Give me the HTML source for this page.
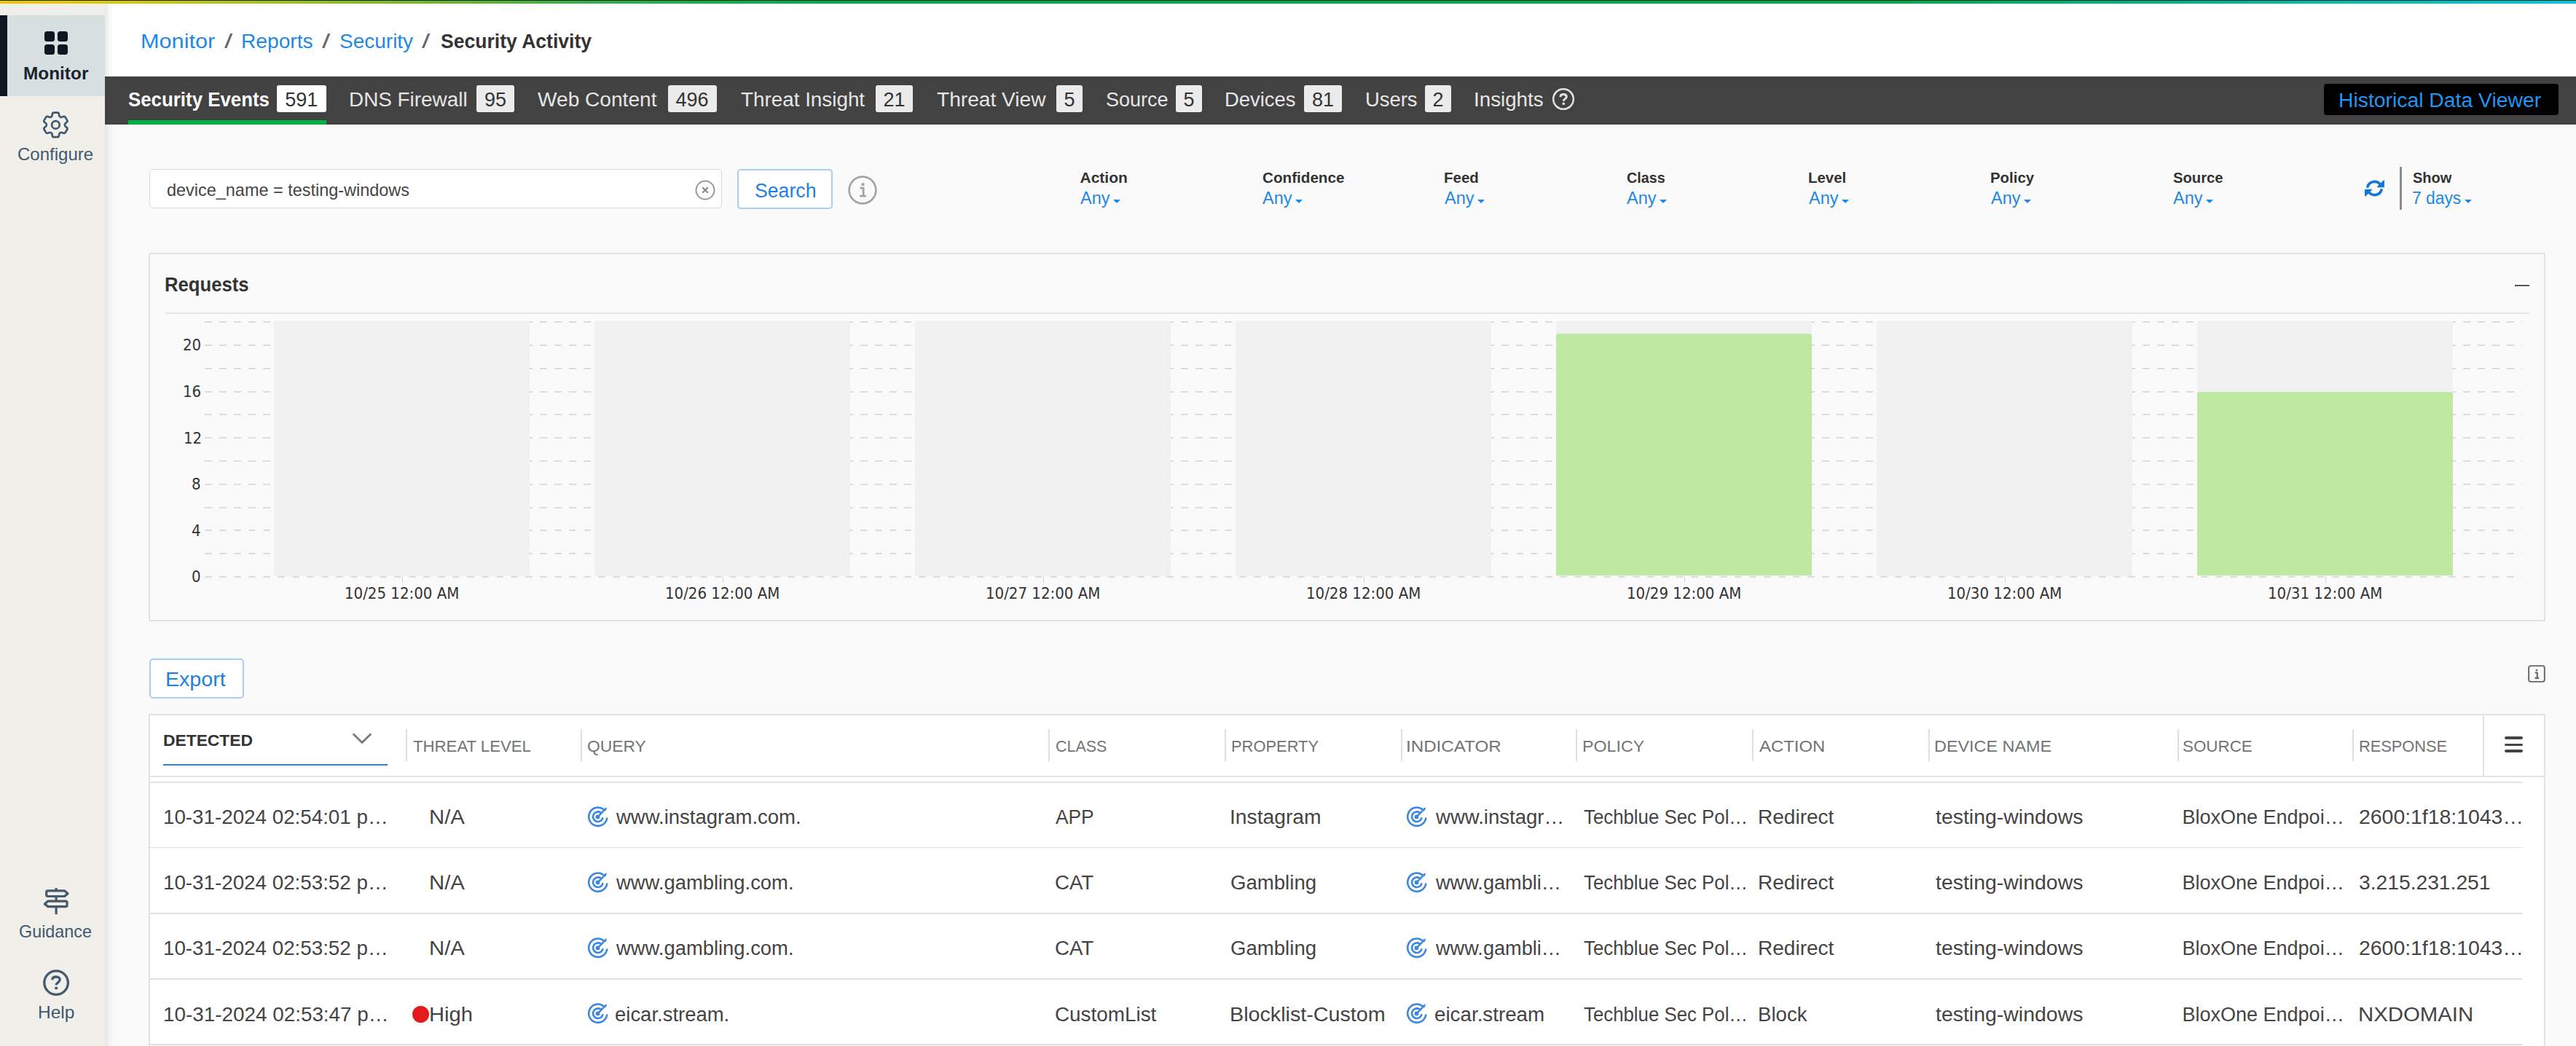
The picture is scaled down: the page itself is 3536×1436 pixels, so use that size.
<!DOCTYPE html>
<html><head><meta charset="utf-8"><title>Security Activity</title>
<style>
*{box-sizing:border-box;margin:0;padding:0}
html,body{width:3536px;height:1436px;overflow:hidden}
body{position:relative;background:#fafafa;font-family:"Liberation Sans",Arial,sans-serif;color:#333}
.a{position:absolute;white-space:nowrap;line-height:1;transform-origin:0 0}
.topbar{left:0;top:0;width:3536px;height:5px;background:linear-gradient(90deg,#f2c800 0%,#e2c800 4%,#a8c418 10%,#3cb040 22%,#00ae4a 32%,#00ae4a 74%,#00b48a 84%,#00c0b8 92%,#00c8dc 100%);border-top:1px solid #1b2b22}
.side{left:0;top:5px;width:144px;height:1431px;background:#f0efea}
.sideshadow{left:144px;top:5px;width:12px;height:1431px;background:linear-gradient(90deg,rgba(0,0,0,0.09),rgba(0,0,0,0.03) 50%,rgba(0,0,0,0))}
.sact{left:0;top:21px;width:144px;height:111px;background:#d8dfe1}
.sbar{left:0;top:21px;width:10px;height:111px;background:#0e1621}
.tabs{left:144px;top:105px;width:3392px;height:66px;background:#424242}
.badge{height:37px;top:117px;background:#ebebeb;color:#333;border-radius:3px;font-size:27px;line-height:41px;text-align:center}
.hdv{left:3190px;top:115px;width:322px;height:43px;background:#000;border-radius:4px}
.panel{left:204px;top:347px;width:3290px;height:506px;background:#fafafa;border:2px solid #e2e2e2}
.gbar{top:441px;width:351px;height:349.5px;background:#f1f1f1}
.grn{width:351px;background:#bfe9a3;border-radius:3px 3px 0 0}
.grid{left:281px;width:3181px;height:2px;background:repeating-linear-gradient(90deg,#dcdcdc 0 10px,transparent 10px 20px)}
.tick{width:1px;height:8px;top:792px;background:#d0d0d0}
.tbl{left:204px;top:980px;width:3289.5px;height:470px;background:#fff;border:2px solid #e2e2e2}
.csep{top:1001px;width:1.6px;height:44px;background:#e0e0e0}
.rline{left:206px;width:3256px;height:1.6px;background:#e0e0e0}
.caret{width:0;height:0;border-left:5.5px solid transparent;border-right:5.5px solid transparent;border-top:5px solid #1e88e5}

</style></head><body>
<div class="a topbar"></div>
<div class="a" style="left:144px;top:5px;width:3392px;height:100px;background:#fff"></div>

<!-- sidebar -->
<div class="a side"></div>
<div class="a sact"></div>
<div class="a sbar"></div>
<svg class="a" style="left:61px;top:43px" width="32" height="32" viewBox="0 0 32 32">
 <rect x="0" y="0" width="14" height="14" rx="3.5" fill="#0e1621"/><rect x="18" y="0" width="14" height="14" rx="3.5" fill="#0e1621"/>
 <rect x="0" y="18" width="14" height="14" rx="3.5" fill="#0e1621"/><rect x="18" y="18" width="14" height="14" rx="3.5" fill="#0e1621"/>
</svg>
<svg class="a" style="left:54.3px;top:148.6px" width="44.8" height="44.8" viewBox="0 0 24 24" fill="none" stroke="#41586d" stroke-width="1.45" stroke-linecap="round" stroke-linejoin="round">
 <path d="M9.594 3.94c.09-.542.56-.94 1.11-.94h2.593c.55 0 1.02.398 1.11.94l.213 1.281c.063.374.313.686.645.87.074.04.147.083.22.127.325.196.72.257 1.075.124l1.217-.456a1.125 1.125 0 0 1 1.37.49l1.296 2.247a1.125 1.125 0 0 1-.26 1.431l-1.003.827c-.293.241-.438.613-.43.992a7.723 7.723 0 0 1 0 .255c-.008.378.137.75.43.991l1.004.827c.424.35.534.955.26 1.43l-1.298 2.247a1.125 1.125 0 0 1-1.369.491l-1.217-.456c-.355-.133-.75-.072-1.076.124a6.47 6.470 0 0 1-.22.128c-.331.183-.581.495-.644.869l-.213 1.281c-.09.543-.56.94-1.11.94h-2.594c-.55 0-1.019-.398-1.110-.94l-.213-1.281c-.062-.374-.312-.686-.644-.87a6.520 6.520 0 0 1-.22-.127c-.325-.196-.72-.257-1.076-.124l-1.217.456a1.125 1.125 0 0 1-1.369-.49l-1.297-2.247a1.125 1.125 0 0 1 .26-1.431l1.004-.827c.292-.24.437-.613.43-.991a6.932 6.932 0 0 1 0-.255c.007-.38-.138-.751-.43-.992l-1.004-.827a1.125 1.125 0 0 1-.26-1.43l1.297-2.247a1.125 1.125 0 0 1 1.370-.491l1.216.456c.356.133.751.072 1.076-.124.072-.044.146-.086.22-.128.332-.183.582-.495.644-.869l.214-1.28Z"/>
 <circle cx="12" cy="12" r="2.85"/>
</svg>
<svg class="a" style="left:50px;top:1210px" width="55" height="55" viewBox="0 0 55 55" fill="none" stroke="#44596b" stroke-width="3.2" stroke-linejoin="round">
 <path d="M27.1 9v3.9M27.1 20.5v6.6M27.1 34.7v10.5"/>
 <path d="M15.7 12.9H38.6L43 16.7L38.6 20.5H15.7Q13.7 20.5 13.7 18.5V14.9Q13.7 12.9 15.7 12.9Z"/>
 <path d="M16 27.1H40Q42 27.1 42 29.1V32.7Q42 34.7 40 34.7H16L11.4 30.9Z"/>
</svg>
<svg class="a" style="left:50px;top:1322px" width="55" height="55" viewBox="0 0 55 55" fill="none" stroke="#44596b" stroke-width="3.3">
 <circle cx="27.1" cy="27.1" r="16.3"/>
 <path d="M21.9 23.2C21.9 20.4 24.1 19 27 19C30.1 19 32.2 20.7 32.2 23.1C32.2 26.4 27.2 26.7 27.2 30.3" stroke-width="3.4"/>
 <circle cx="27.2" cy="34.5" r="2.1" fill="#44596b" stroke="none"/>
</svg>
<div class="a sideshadow"></div>

<!-- tabs -->
<div class="a tabs"></div>
<div class="a" style="left:176px;top:165px;width:271.5px;height:6px;background:#00b341"></div>
<svg class="a" style="left:2130.3px;top:119.7px" width="32" height="32" viewBox="0 0 32 32" fill="none" stroke="#e2e2e2" stroke-width="2.5">
 <circle cx="16" cy="16" r="13.8"/>
 <path d="M11.9 13.2C11.9 10.8 13.7 9.5 16.1 9.5C18.6 9.5 20.3 10.9 20.3 12.9C20.3 15.6 16.3 15.8 16.3 18.8" stroke-width="3"/>
 <circle cx="16.3" cy="22.4" r="1.8" fill="#e2e2e2" stroke="none"/>
</svg>
<div class="a hdv"></div>

<!-- filters -->
<div class="a" style="left:205px;top:232px;width:786px;height:54px;background:#fff;border:1.5px solid #d9d9d9;border-radius:5px"></div>
<svg class="a" style="left:954px;top:246.5px" width="28" height="28" viewBox="0 0 28 28" fill="none" stroke="#9a9a9a" stroke-width="2">
 <circle cx="14" cy="14" r="12.5"/>
 <path d="M10.2 10.2l7.6 7.6M17.8 10.2l-7.6 7.6" stroke="#8a8a8a" stroke-width="2.2"/>
</svg>
<div class="a" style="left:1012px;top:231.5px;width:131px;height:55px;background:#fff;border:2px solid #a9cdf3;border-radius:5px"></div>
<svg class="a" style="left:1164px;top:240.5px" width="40" height="40" viewBox="0 0 40 40" fill="none" stroke="#a3a3a3" stroke-width="2.6">
 <circle cx="20" cy="20" r="18.4"/>
 <circle cx="20.5" cy="12.2" r="2.1" fill="#a3a3a3" stroke="none"/>
 <path d="M16.5 17.2h4.6v10.4M16.2 28.2h8.6" stroke-width="2.8"/>
</svg>
<!-- carets -->
<div class="a caret" style="left:1527.5px;top:273.5px"></div>
<div class="a caret" style="left:1777.5px;top:273.5px"></div>
<div class="a caret" style="left:2027.5px;top:273.5px"></div>
<div class="a caret" style="left:2277.5px;top:273.5px"></div>
<div class="a caret" style="left:2527.5px;top:273.5px"></div>
<div class="a caret" style="left:2777.5px;top:273.5px"></div>
<div class="a caret" style="left:3027.5px;top:273.5px"></div>
<div class="a caret" style="left:3383px;top:273.5px"></div>
<!-- refresh -->
<svg class="a" style="left:3245px;top:246px" width="29" height="25" viewBox="0 0 29 25" fill="none" stroke="#1275dc" stroke-width="3.6" stroke-linecap="round">
 <path d="M5 10.2A10 10 0 0 1 22.5 7.5"/>
 <path d="M24 14.8A10 10 0 0 1 6.5 17.5"/>
 <path d="M27.3 1.8v8.8h-8.8z" fill="#1275dc" stroke="#1275dc" stroke-width="1.2" stroke-linejoin="round"/>
 <path d="M1.7 23.2v-8.8h8.8z" fill="#1275dc" stroke="#1275dc" stroke-width="1.2" stroke-linejoin="round"/>
</svg>
<div class="a" style="left:3294px;top:229px;width:2.6px;height:59px;background:#8a8a8a"></div>

<!-- chart panel -->
<div class="a panel"></div>
<div class="a" style="left:226px;top:429px;width:3246px;height:2px;background:#e6e6e6"></div>
<div class="a" style="left:3452px;top:390.5px;width:20px;height:2.5px;background:#555"></div>

<!-- export -->
<div class="a" style="left:205px;top:903.5px;width:130px;height:55px;background:#fff;border:2px solid #a9cdf3;border-radius:5px"></div>
<svg class="a" style="left:3470px;top:912.5px" width="24" height="24" viewBox="0 0 25 25" fill="none" stroke="#666" stroke-width="2">
 <rect x="1.2" y="1.2" width="22.6" height="22.6" rx="3"/>
 <circle cx="12.5" cy="7.4" r="1.5" fill="#666" stroke="none"/>
 <path d="M10 11h3.3v7.4M9.8 18.6h6" stroke-width="2.2"/>
</svg>

<!-- table -->
<div class="a tbl"></div>
<div class="a" style="left:206px;top:1065px;width:3286px;height:1.5px;background:#e2e2e2"></div>
<div class="a" style="left:206px;top:1066.5px;width:3256px;height:7px;background:#fff"></div>
<div class="a" style="left:206px;top:1073px;width:3256px;height:2px;background:#e2e2e2"></div>
<div class="a" style="left:224px;top:1048.8px;width:308px;height:2.4px;background:#2b86e2"></div>
<svg class="a" style="left:483px;top:1005px" width="28" height="18" viewBox="0 0 28 18" fill="none" stroke="#7a7a7a" stroke-width="2.8" stroke-linecap="round" stroke-linejoin="round">
 <path d="M2.5 3.2l11.5 11.2 11.5-11.2"/>
</svg>
<div class="a csep" style="left:557px"></div>
<div class="a csep" style="left:797px"></div>
<div class="a csep" style="left:1439px"></div>
<div class="a csep" style="left:1681px"></div>
<div class="a csep" style="left:1923px"></div>
<div class="a csep" style="left:2163px"></div>
<div class="a csep" style="left:2405px"></div>
<div class="a csep" style="left:2647px"></div>
<div class="a csep" style="left:2989px"></div>
<div class="a csep" style="left:3229px"></div>
<div class="a" style="left:3408.2px;top:981px;width:2px;height:84px;background:#e2e2e2"></div>
<div class="a" style="left:3438.3px;top:1011.3px;width:24.4px;height:3.6px;background:#434343;border-radius:2px"></div>
<div class="a" style="left:3438.3px;top:1020.7px;width:24.4px;height:3.6px;background:#434343;border-radius:2px"></div>
<div class="a" style="left:3438.3px;top:1029.2px;width:24.4px;height:3.6px;background:#434343;border-radius:2px"></div>

<div class="a grid" style="top:791.0px"></div>
<div class="a grid" style="top:759.2px"></div>
<div class="a grid" style="top:727.4px"></div>
<div class="a grid" style="top:695.6px"></div>
<div class="a grid" style="top:663.8px"></div>
<div class="a grid" style="top:632.0px"></div>
<div class="a grid" style="top:600.2px"></div>
<div class="a grid" style="top:568.4px"></div>
<div class="a grid" style="top:536.6px"></div>
<div class="a grid" style="top:504.8px"></div>
<div class="a grid" style="top:473.0px"></div>
<div class="a grid" style="top:441.2px"></div>
<div class="a gbar" style="left:376px"></div>
<div class="a gbar" style="left:816px"></div>
<div class="a gbar" style="left:1256px"></div>
<div class="a gbar" style="left:1696px"></div>
<div class="a gbar" style="left:2136px"></div>
<div class="a gbar" style="left:2576px"></div>
<div class="a gbar" style="left:3016px"></div>
<div class="a grn" style="left:2136px;top:458.1px;height:332.4px"></div>
<div class="a grn" style="left:3016px;top:537.6px;height:252.9px"></div>
<div class="a tick" style="left:551.5px"></div>
<div class="a tick" style="left:991.5px"></div>
<div class="a tick" style="left:1431.5px"></div>
<div class="a tick" style="left:1871.5px"></div>
<div class="a tick" style="left:2311.5px"></div>
<div class="a tick" style="left:2751.5px"></div>
<div class="a tick" style="left:3191.5px"></div>
<div class="a badge" style="left:380px;width:67.5px;background:#ffffff">591</div>
<div class="a badge" style="left:654px;width:52.0px;background:#ebebeb">95</div>
<div class="a badge" style="left:916.5px;width:67.0px;background:#ebebeb">496</div>
<div class="a badge" style="left:1202px;width:51.0px;background:#ebebeb">21</div>
<div class="a badge" style="left:1450px;width:36.0px;background:#ebebeb">5</div>
<div class="a badge" style="left:1614px;width:36.0px;background:#ebebeb">5</div>
<div class="a badge" style="left:1790px;width:52.0px;background:#ebebeb">81</div>
<div class="a badge" style="left:1956px;width:36.0px;background:#ebebeb">2</div>
<div class="a rline" style="top:1162.8px"></div>
<svg class="a" style="left:805.5px;top:1105.6px" width="30" height="30" viewBox="0 0 30 30" fill="none" stroke="#3b87e0" stroke-linecap="round">
<path d="M27.2 17.5A12.6 12.6 0 1 1 21.6 4.6" stroke-width="2.6"/>
<path d="M21.3 17.3A6.8 6.8 0 1 1 18.4 9.4" stroke-width="2.6"/>
<circle cx="14.5" cy="15.4" r="2.9" fill="#3b87e0" stroke="none"/>
<path d="M14.8 15.2L25.4 4.2" stroke-width="2.4"/>
<path d="M22.2 5.6l4.8-3.4-1.6 5.3z" fill="#3b87e0" stroke="none"/>
</svg>
<svg class="a" style="left:1930px;top:1105.6px" width="30" height="30" viewBox="0 0 30 30" fill="none" stroke="#3b87e0" stroke-linecap="round">
<path d="M27.2 17.5A12.6 12.6 0 1 1 21.6 4.6" stroke-width="2.6"/>
<path d="M21.3 17.3A6.8 6.8 0 1 1 18.4 9.4" stroke-width="2.6"/>
<circle cx="14.5" cy="15.4" r="2.9" fill="#3b87e0" stroke="none"/>
<path d="M14.8 15.2L25.4 4.2" stroke-width="2.4"/>
<path d="M22.2 5.6l4.8-3.4-1.6 5.3z" fill="#3b87e0" stroke="none"/>
</svg>
<div class="a rline" style="top:1253.0px"></div>
<svg class="a" style="left:805.5px;top:1195.8px" width="30" height="30" viewBox="0 0 30 30" fill="none" stroke="#3b87e0" stroke-linecap="round">
<path d="M27.2 17.5A12.6 12.6 0 1 1 21.6 4.6" stroke-width="2.6"/>
<path d="M21.3 17.3A6.8 6.8 0 1 1 18.4 9.4" stroke-width="2.6"/>
<circle cx="14.5" cy="15.4" r="2.9" fill="#3b87e0" stroke="none"/>
<path d="M14.8 15.2L25.4 4.2" stroke-width="2.4"/>
<path d="M22.2 5.6l4.8-3.4-1.6 5.3z" fill="#3b87e0" stroke="none"/>
</svg>
<svg class="a" style="left:1930px;top:1195.8px" width="30" height="30" viewBox="0 0 30 30" fill="none" stroke="#3b87e0" stroke-linecap="round">
<path d="M27.2 17.5A12.6 12.6 0 1 1 21.6 4.6" stroke-width="2.6"/>
<path d="M21.3 17.3A6.8 6.8 0 1 1 18.4 9.4" stroke-width="2.6"/>
<circle cx="14.5" cy="15.4" r="2.9" fill="#3b87e0" stroke="none"/>
<path d="M14.8 15.2L25.4 4.2" stroke-width="2.4"/>
<path d="M22.2 5.6l4.8-3.4-1.6 5.3z" fill="#3b87e0" stroke="none"/>
</svg>
<div class="a rline" style="top:1343.2px"></div>
<svg class="a" style="left:805.5px;top:1286.0px" width="30" height="30" viewBox="0 0 30 30" fill="none" stroke="#3b87e0" stroke-linecap="round">
<path d="M27.2 17.5A12.6 12.6 0 1 1 21.6 4.6" stroke-width="2.6"/>
<path d="M21.3 17.3A6.8 6.8 0 1 1 18.4 9.4" stroke-width="2.6"/>
<circle cx="14.5" cy="15.4" r="2.9" fill="#3b87e0" stroke="none"/>
<path d="M14.8 15.2L25.4 4.2" stroke-width="2.4"/>
<path d="M22.2 5.6l4.8-3.4-1.6 5.3z" fill="#3b87e0" stroke="none"/>
</svg>
<svg class="a" style="left:1930px;top:1286.0px" width="30" height="30" viewBox="0 0 30 30" fill="none" stroke="#3b87e0" stroke-linecap="round">
<path d="M27.2 17.5A12.6 12.6 0 1 1 21.6 4.6" stroke-width="2.6"/>
<path d="M21.3 17.3A6.8 6.8 0 1 1 18.4 9.4" stroke-width="2.6"/>
<circle cx="14.5" cy="15.4" r="2.9" fill="#3b87e0" stroke="none"/>
<path d="M14.8 15.2L25.4 4.2" stroke-width="2.4"/>
<path d="M22.2 5.6l4.8-3.4-1.6 5.3z" fill="#3b87e0" stroke="none"/>
</svg>
<div class="a rline" style="top:1433.4px"></div>
<svg class="a" style="left:805.5px;top:1376.2px" width="30" height="30" viewBox="0 0 30 30" fill="none" stroke="#3b87e0" stroke-linecap="round">
<path d="M27.2 17.5A12.6 12.6 0 1 1 21.6 4.6" stroke-width="2.6"/>
<path d="M21.3 17.3A6.8 6.8 0 1 1 18.4 9.4" stroke-width="2.6"/>
<circle cx="14.5" cy="15.4" r="2.9" fill="#3b87e0" stroke="none"/>
<path d="M14.8 15.2L25.4 4.2" stroke-width="2.4"/>
<path d="M22.2 5.6l4.8-3.4-1.6 5.3z" fill="#3b87e0" stroke="none"/>
</svg>
<svg class="a" style="left:1930px;top:1376.2px" width="30" height="30" viewBox="0 0 30 30" fill="none" stroke="#3b87e0" stroke-linecap="round">
<path d="M27.2 17.5A12.6 12.6 0 1 1 21.6 4.6" stroke-width="2.6"/>
<path d="M21.3 17.3A6.8 6.8 0 1 1 18.4 9.4" stroke-width="2.6"/>
<circle cx="14.5" cy="15.4" r="2.9" fill="#3b87e0" stroke="none"/>
<path d="M14.8 15.2L25.4 4.2" stroke-width="2.4"/>
<path d="M22.2 5.6l4.8-3.4-1.6 5.3z" fill="#3b87e0" stroke="none"/>
</svg>
<div class="a" style="left:566px;top:1380.5px;width:23px;height:23px;border-radius:50%;background:#e31b1b"></div>
<div class="a" style="left:31.98px;top:88.68px;font-size:24px;font-weight:700;color:#1a2330;font-family:'Liberation Sans', Arial, sans-serif;transform:scaleX(1.0158);">Monitor</div>
<div class="a" style="left:24.00px;top:199.68px;font-size:24px;font-weight:400;color:#40596f;font-family:'Liberation Sans', Arial, sans-serif;">Configure</div>
<div class="a" style="left:26.43px;top:1266.68px;font-size:24px;font-weight:400;color:#40596f;font-family:'Liberation Sans', Arial, sans-serif;transform:scaleX(0.9725);">Guidance</div>
<div class="a" style="left:52.38px;top:1378.28px;font-size:24px;font-weight:400;color:#40596f;font-family:'Liberation Sans', Arial, sans-serif;transform:scaleX(1.0206);">Help</div>
<div class="a" style="left:192.73px;top:43.84px;font-size:27px;font-weight:400;color:#1e88e5;font-family:'Liberation Sans', Arial, sans-serif;transform:scaleX(1.1359);">Monitor</div>
<div class="a" style="left:307.60px;top:43.84px;font-size:27px;font-weight:400;color:#666666;font-family:'Liberation Sans', Arial, sans-serif;transform:scaleX(1.5000);">/</div>
<div class="a" style="left:331.31px;top:43.84px;font-size:27px;font-weight:400;color:#1e88e5;font-family:'Liberation Sans', Arial, sans-serif;transform:scaleX(1.0430);">Reports</div>
<div class="a" style="left:442.00px;top:43.84px;font-size:27px;font-weight:400;color:#666666;font-family:'Liberation Sans', Arial, sans-serif;transform:scaleX(1.5000);">/</div>
<div class="a" style="left:466.36px;top:43.84px;font-size:27px;font-weight:400;color:#1e88e5;font-family:'Liberation Sans', Arial, sans-serif;transform:scaleX(1.0368);">Security</div>
<div class="a" style="left:579.00px;top:43.84px;font-size:27px;font-weight:400;color:#666666;font-family:'Liberation Sans', Arial, sans-serif;transform:scaleX(1.5000);">/</div>
<div class="a" style="left:605.00px;top:43.84px;font-size:27px;font-weight:700;color:#333;font-family:'Liberation Sans', Arial, sans-serif;transform:scaleX(0.9831);">Security Activity</div>
<div class="a" style="left:176.00px;top:124.14px;font-size:27px;font-weight:700;color:#ffffff;font-family:'Liberation Sans', Arial, sans-serif;transform:scaleX(0.9575);">Security Events</div>
<div class="a" style="left:478.94px;top:124.14px;font-size:27px;font-weight:400;color:#e6e6e6;font-family:'Liberation Sans', Arial, sans-serif;transform:scaleX(1.0322);">DNS Firewall</div>
<div class="a" style="left:738.00px;top:124.14px;font-size:27px;font-weight:400;color:#e6e6e6;font-family:'Liberation Sans', Arial, sans-serif;transform:scaleX(1.0406);">Web Content</div>
<div class="a" style="left:1017.00px;top:124.14px;font-size:27px;font-weight:400;color:#e6e6e6;font-family:'Liberation Sans', Arial, sans-serif;transform:scaleX(1.0303);">Threat Insight</div>
<div class="a" style="left:1286.00px;top:124.14px;font-size:27px;font-weight:400;color:#e6e6e6;font-family:'Liberation Sans', Arial, sans-serif;transform:scaleX(1.0412);">Threat View</div>
<div class="a" style="left:1518.00px;top:124.14px;font-size:27px;font-weight:400;color:#e6e6e6;font-family:'Liberation Sans', Arial, sans-serif;">Source</div>
<div class="a" style="left:1680.97px;top:124.14px;font-size:27px;font-weight:400;color:#e6e6e6;font-family:'Liberation Sans', Arial, sans-serif;transform:scaleX(1.0157);">Devices</div>
<div class="a" style="left:1873.97px;top:124.14px;font-size:27px;font-weight:400;color:#e6e6e6;font-family:'Liberation Sans', Arial, sans-serif;transform:scaleX(1.0146);">Users</div>
<div class="a" style="left:2022.95px;top:124.14px;font-size:27px;font-weight:400;color:#e6e6e6;font-family:'Liberation Sans', Arial, sans-serif;transform:scaleX(1.0271);">Insights</div>
<div class="a" style="left:3209.90px;top:125.44px;font-size:27px;font-weight:400;color:#2196f3;font-family:'Liberation Sans', Arial, sans-serif;transform:scaleX(1.0490);">Historical Data Viewer</div>
<div class="a" style="left:229.02px;top:248.68px;font-size:24px;font-weight:400;color:#444;font-family:'Liberation Sans', Arial, sans-serif;transform:scaleX(0.9769);">device_name = testing-windows</div>
<div class="a" style="left:1036.35px;top:247.50px;font-size:28px;font-weight:400;color:#1f80e0;font-family:'Liberation Sans', Arial, sans-serif;transform:scaleX(0.9519);">Search</div>
<div class="a" style="left:1482.50px;top:232.82px;font-size:21px;font-weight:700;color:#333;font-family:'Liberation Sans', Arial, sans-serif;">Action</div>
<div class="a" style="left:1482.50px;top:261.23px;font-size:23px;font-weight:400;color:#1e88e5;font-family:'Liberation Sans', Arial, sans-serif;transform:scaleX(1.0216);">Any</div>
<div class="a" style="left:1732.50px;top:232.82px;font-size:21px;font-weight:700;color:#333;font-family:'Liberation Sans', Arial, sans-serif;transform:scaleX(0.9836);">Confidence</div>
<div class="a" style="left:1732.50px;top:261.23px;font-size:23px;font-weight:400;color:#1e88e5;font-family:'Liberation Sans', Arial, sans-serif;transform:scaleX(1.0216);">Any</div>
<div class="a" style="left:1981.53px;top:232.82px;font-size:21px;font-weight:700;color:#333;font-family:'Liberation Sans', Arial, sans-serif;transform:scaleX(0.9749);">Feed</div>
<div class="a" style="left:1982.50px;top:261.23px;font-size:23px;font-weight:400;color:#1e88e5;font-family:'Liberation Sans', Arial, sans-serif;transform:scaleX(1.0216);">Any</div>
<div class="a" style="left:2232.50px;top:232.82px;font-size:21px;font-weight:700;color:#333;font-family:'Liberation Sans', Arial, sans-serif;transform:scaleX(0.9393);">Class</div>
<div class="a" style="left:2232.50px;top:261.23px;font-size:23px;font-weight:400;color:#1e88e5;font-family:'Liberation Sans', Arial, sans-serif;transform:scaleX(1.0216);">Any</div>
<div class="a" style="left:2481.53px;top:232.82px;font-size:21px;font-weight:700;color:#333;font-family:'Liberation Sans', Arial, sans-serif;transform:scaleX(0.9717);">Level</div>
<div class="a" style="left:2482.50px;top:261.23px;font-size:23px;font-weight:400;color:#1e88e5;font-family:'Liberation Sans', Arial, sans-serif;transform:scaleX(1.0216);">Any</div>
<div class="a" style="left:2731.53px;top:232.82px;font-size:21px;font-weight:700;color:#333;font-family:'Liberation Sans', Arial, sans-serif;transform:scaleX(0.9725);">Policy</div>
<div class="a" style="left:2732.50px;top:261.23px;font-size:23px;font-weight:400;color:#1e88e5;font-family:'Liberation Sans', Arial, sans-serif;transform:scaleX(1.0216);">Any</div>
<div class="a" style="left:2982.50px;top:232.82px;font-size:21px;font-weight:700;color:#333;font-family:'Liberation Sans', Arial, sans-serif;transform:scaleX(0.9629);">Source</div>
<div class="a" style="left:2982.50px;top:261.23px;font-size:23px;font-weight:400;color:#1e88e5;font-family:'Liberation Sans', Arial, sans-serif;transform:scaleX(1.0216);">Any</div>
<div class="a" style="left:3312.00px;top:232.82px;font-size:21px;font-weight:700;color:#333;font-family:'Liberation Sans', Arial, sans-serif;transform:scaleX(0.9530);">Show</div>
<div class="a" style="left:3311.01px;top:261.23px;font-size:23px;font-weight:400;color:#1e88e5;font-family:'Liberation Sans', Arial, sans-serif;transform:scaleX(0.9930);">7 days</div>
<div class="a" style="left:226.05px;top:378.44px;font-size:27px;font-weight:700;color:#333;font-family:'Liberation Sans', Arial, sans-serif;transform:scaleX(0.9513);">Requests</div>
<div class="a" style="left:263.30px;top:781.38px;font-size:22px;font-weight:400;color:#333;font-family:'DejaVu Sans', sans-serif;transform:scaleX(0.9000);">0</div>
<div class="a" style="left:263.30px;top:717.78px;font-size:22px;font-weight:400;color:#333;font-family:'DejaVu Sans', sans-serif;transform:scaleX(0.9000);">4</div>
<div class="a" style="left:263.30px;top:654.18px;font-size:22px;font-weight:400;color:#333;font-family:'DejaVu Sans', sans-serif;transform:scaleX(0.9000);">8</div>
<div class="a" style="left:251.60px;top:590.58px;font-size:22px;font-weight:400;color:#333;font-family:'DejaVu Sans', sans-serif;transform:scaleX(0.9000);">12</div>
<div class="a" style="left:250.70px;top:526.98px;font-size:22px;font-weight:400;color:#333;font-family:'DejaVu Sans', sans-serif;transform:scaleX(0.9000);">16</div>
<div class="a" style="left:250.70px;top:463.38px;font-size:22px;font-weight:400;color:#333;font-family:'DejaVu Sans', sans-serif;transform:scaleX(0.9000);">20</div>
<div class="a" style="left:472.82px;top:804.38px;font-size:22px;font-weight:400;color:#333;font-family:'DejaVu Sans', sans-serif;transform:scaleX(0.9000);">10/25 12:00 AM</div>
<div class="a" style="left:912.82px;top:804.38px;font-size:22px;font-weight:400;color:#333;font-family:'DejaVu Sans', sans-serif;transform:scaleX(0.9000);">10/26 12:00 AM</div>
<div class="a" style="left:1352.82px;top:804.38px;font-size:22px;font-weight:400;color:#333;font-family:'DejaVu Sans', sans-serif;transform:scaleX(0.9000);">10/27 12:00 AM</div>
<div class="a" style="left:1792.82px;top:804.38px;font-size:22px;font-weight:400;color:#333;font-family:'DejaVu Sans', sans-serif;transform:scaleX(0.9000);">10/28 12:00 AM</div>
<div class="a" style="left:2232.82px;top:804.38px;font-size:22px;font-weight:400;color:#333;font-family:'DejaVu Sans', sans-serif;transform:scaleX(0.9000);">10/29 12:00 AM</div>
<div class="a" style="left:2672.82px;top:804.38px;font-size:22px;font-weight:400;color:#333;font-family:'DejaVu Sans', sans-serif;transform:scaleX(0.9000);">10/30 12:00 AM</div>
<div class="a" style="left:3112.82px;top:804.38px;font-size:22px;font-weight:400;color:#333;font-family:'DejaVu Sans', sans-serif;transform:scaleX(0.9000);">10/31 12:00 AM</div>
<div class="a" style="left:226.88px;top:920.34px;font-size:27px;font-weight:400;color:#1f80e0;font-family:'Liberation Sans', Arial, sans-serif;transform:scaleX(1.0584);">Export</div>
<div class="a" style="left:223.96px;top:1006.38px;font-size:22px;font-weight:700;color:#333;font-family:'Liberation Sans', Arial, sans-serif;transform:scaleX(1.0371);">DETECTED</div>
<div class="a" style="left:566.50px;top:1014.38px;font-size:22px;font-weight:400;color:#737373;font-family:'Liberation Sans', Arial, sans-serif;transform:scaleX(1.0085);">THREAT LEVEL</div>
<div class="a" style="left:806.36px;top:1014.38px;font-size:22px;font-weight:400;color:#737373;font-family:'Liberation Sans', Arial, sans-serif;transform:scaleX(1.0368);">QUERY</div>
<div class="a" style="left:1448.63px;top:1014.38px;font-size:22px;font-weight:400;color:#737373;font-family:'Liberation Sans', Arial, sans-serif;transform:scaleX(0.9749);">CLASS</div>
<div class="a" style="left:1690.00px;top:1014.38px;font-size:22px;font-weight:400;color:#737373;font-family:'Liberation Sans', Arial, sans-serif;transform:scaleX(0.9954);">PROPERTY</div>
<div class="a" style="left:1930.20px;top:1014.38px;font-size:22px;font-weight:400;color:#737373;font-family:'Liberation Sans', Arial, sans-serif;transform:scaleX(1.0984);">INDICATOR</div>
<div class="a" style="left:2172.44px;top:1014.38px;font-size:22px;font-weight:400;color:#737373;font-family:'Liberation Sans', Arial, sans-serif;transform:scaleX(1.0560);">POLICY</div>
<div class="a" style="left:2415.30px;top:1014.38px;font-size:22px;font-weight:400;color:#737373;font-family:'Liberation Sans', Arial, sans-serif;transform:scaleX(1.0873);">ACTION</div>
<div class="a" style="left:2655.34px;top:1014.38px;font-size:22px;font-weight:400;color:#737373;font-family:'Liberation Sans', Arial, sans-serif;transform:scaleX(1.0633);">DEVICE NAME</div>
<div class="a" style="left:2995.98px;top:1014.38px;font-size:22px;font-weight:400;color:#737373;font-family:'Liberation Sans', Arial, sans-serif;transform:scaleX(1.0168);">SOURCE</div>
<div class="a" style="left:3237.81px;top:1014.38px;font-size:22px;font-weight:400;color:#737373;font-family:'Liberation Sans', Arial, sans-serif;transform:scaleX(0.9902);">RESPONSE</div>
<div class="a" style="left:224.24px;top:1108.94px;font-size:27px;font-weight:400;color:#444444;font-family:'Liberation Sans', Arial, sans-serif;transform:scaleX(1.0280);">10-31-2024 02:54:01 p…</div>
<div class="a" style="left:588.53px;top:1108.94px;font-size:27px;font-weight:400;color:#444444;font-family:'Liberation Sans', Arial, sans-serif;transform:scaleX(1.0860);">N/A</div>
<div class="a" style="left:846.42px;top:1108.94px;font-size:27px;font-weight:400;color:#444444;font-family:'Liberation Sans', Arial, sans-serif;transform:scaleX(1.0183);">www.instagram.com.</div>
<div class="a" style="left:1449.00px;top:1108.94px;font-size:27px;font-weight:400;color:#444444;font-family:'Liberation Sans', Arial, sans-serif;transform:scaleX(0.9751);">APP</div>
<div class="a" style="left:1688.41px;top:1108.94px;font-size:27px;font-weight:400;color:#444444;font-family:'Liberation Sans', Arial, sans-serif;transform:scaleX(1.0458);">Instagram</div>
<div class="a" style="left:1971.02px;top:1108.94px;font-size:27px;font-weight:400;color:#444444;font-family:'Liberation Sans', Arial, sans-serif;transform:scaleX(1.0202);">www.instagr…</div>
<div class="a" style="left:2173.70px;top:1108.94px;font-size:27px;font-weight:400;color:#444444;font-family:'Liberation Sans', Arial, sans-serif;transform:scaleX(0.9556);">Techblue Sec Pol…</div>
<div class="a" style="left:2413.32px;top:1108.94px;font-size:27px;font-weight:400;color:#444444;font-family:'Liberation Sans', Arial, sans-serif;transform:scaleX(1.0380);">Redirect</div>
<div class="a" style="left:2656.70px;top:1108.94px;font-size:27px;font-weight:400;color:#444444;font-family:'Liberation Sans', Arial, sans-serif;transform:scaleX(1.0538);">testing-windows</div>
<div class="a" style="left:2995.50px;top:1108.94px;font-size:27px;font-weight:400;color:#444444;font-family:'Liberation Sans', Arial, sans-serif;">BloxOne Endpoi…</div>
<div class="a" style="left:3238.45px;top:1108.94px;font-size:27px;font-weight:400;color:#444444;font-family:'Liberation Sans', Arial, sans-serif;transform:scaleX(1.0518);">2600:1f18:1043…</div>
<div class="a" style="left:224.24px;top:1199.14px;font-size:27px;font-weight:400;color:#444444;font-family:'Liberation Sans', Arial, sans-serif;transform:scaleX(1.0280);">10-31-2024 02:53:52 p…</div>
<div class="a" style="left:588.53px;top:1199.14px;font-size:27px;font-weight:400;color:#444444;font-family:'Liberation Sans', Arial, sans-serif;transform:scaleX(1.0860);">N/A</div>
<div class="a" style="left:846.41px;top:1199.14px;font-size:27px;font-weight:400;color:#444444;font-family:'Liberation Sans', Arial, sans-serif;transform:scaleX(1.0143);">www.gambling.com.</div>
<div class="a" style="left:1447.98px;top:1199.14px;font-size:27px;font-weight:400;color:#444444;font-family:'Liberation Sans', Arial, sans-serif;transform:scaleX(1.0237);">CAT</div>
<div class="a" style="left:1689.48px;top:1199.14px;font-size:27px;font-weight:400;color:#444444;font-family:'Liberation Sans', Arial, sans-serif;transform:scaleX(1.0217);">Gambling</div>
<div class="a" style="left:1971.01px;top:1199.14px;font-size:27px;font-weight:400;color:#444444;font-family:'Liberation Sans', Arial, sans-serif;transform:scaleX(1.0057);">www.gambli…</div>
<div class="a" style="left:2173.70px;top:1199.14px;font-size:27px;font-weight:400;color:#444444;font-family:'Liberation Sans', Arial, sans-serif;transform:scaleX(0.9556);">Techblue Sec Pol…</div>
<div class="a" style="left:2413.32px;top:1199.14px;font-size:27px;font-weight:400;color:#444444;font-family:'Liberation Sans', Arial, sans-serif;transform:scaleX(1.0380);">Redirect</div>
<div class="a" style="left:2656.70px;top:1199.14px;font-size:27px;font-weight:400;color:#444444;font-family:'Liberation Sans', Arial, sans-serif;transform:scaleX(1.0538);">testing-windows</div>
<div class="a" style="left:2995.50px;top:1199.14px;font-size:27px;font-weight:400;color:#444444;font-family:'Liberation Sans', Arial, sans-serif;">BloxOne Endpoi…</div>
<div class="a" style="left:3238.45px;top:1199.14px;font-size:27px;font-weight:400;color:#444444;font-family:'Liberation Sans', Arial, sans-serif;transform:scaleX(1.0454);">3.215.231.251</div>
<div class="a" style="left:224.24px;top:1289.34px;font-size:27px;font-weight:400;color:#444444;font-family:'Liberation Sans', Arial, sans-serif;transform:scaleX(1.0280);">10-31-2024 02:53:52 p…</div>
<div class="a" style="left:588.53px;top:1289.34px;font-size:27px;font-weight:400;color:#444444;font-family:'Liberation Sans', Arial, sans-serif;transform:scaleX(1.0860);">N/A</div>
<div class="a" style="left:846.41px;top:1289.34px;font-size:27px;font-weight:400;color:#444444;font-family:'Liberation Sans', Arial, sans-serif;transform:scaleX(1.0143);">www.gambling.com.</div>
<div class="a" style="left:1447.98px;top:1289.34px;font-size:27px;font-weight:400;color:#444444;font-family:'Liberation Sans', Arial, sans-serif;transform:scaleX(1.0237);">CAT</div>
<div class="a" style="left:1689.48px;top:1289.34px;font-size:27px;font-weight:400;color:#444444;font-family:'Liberation Sans', Arial, sans-serif;transform:scaleX(1.0217);">Gambling</div>
<div class="a" style="left:1971.01px;top:1289.34px;font-size:27px;font-weight:400;color:#444444;font-family:'Liberation Sans', Arial, sans-serif;transform:scaleX(1.0057);">www.gambli…</div>
<div class="a" style="left:2173.70px;top:1289.34px;font-size:27px;font-weight:400;color:#444444;font-family:'Liberation Sans', Arial, sans-serif;transform:scaleX(0.9556);">Techblue Sec Pol…</div>
<div class="a" style="left:2413.32px;top:1289.34px;font-size:27px;font-weight:400;color:#444444;font-family:'Liberation Sans', Arial, sans-serif;transform:scaleX(1.0380);">Redirect</div>
<div class="a" style="left:2656.70px;top:1289.34px;font-size:27px;font-weight:400;color:#444444;font-family:'Liberation Sans', Arial, sans-serif;transform:scaleX(1.0538);">testing-windows</div>
<div class="a" style="left:2995.50px;top:1289.34px;font-size:27px;font-weight:400;color:#444444;font-family:'Liberation Sans', Arial, sans-serif;">BloxOne Endpoi…</div>
<div class="a" style="left:3238.45px;top:1289.34px;font-size:27px;font-weight:400;color:#444444;font-family:'Liberation Sans', Arial, sans-serif;transform:scaleX(1.0518);">2600:1f18:1043…</div>
<div class="a" style="left:224.24px;top:1379.54px;font-size:27px;font-weight:400;color:#444444;font-family:'Liberation Sans', Arial, sans-serif;transform:scaleX(1.0314);">10-31-2024 02:53:47 p…</div>
<div class="a" style="left:588.54px;top:1379.54px;font-size:27px;font-weight:400;color:#444444;font-family:'Liberation Sans', Arial, sans-serif;transform:scaleX(1.0797);">High</div>
<div class="a" style="left:844.38px;top:1379.54px;font-size:27px;font-weight:400;color:#444444;font-family:'Liberation Sans', Arial, sans-serif;transform:scaleX(1.0174);">eicar.stream.</div>
<div class="a" style="left:1447.97px;top:1379.54px;font-size:27px;font-weight:400;color:#444444;font-family:'Liberation Sans', Arial, sans-serif;transform:scaleX(1.0317);">CustomList</div>
<div class="a" style="left:1688.37px;top:1379.54px;font-size:27px;font-weight:400;color:#444444;font-family:'Liberation Sans', Arial, sans-serif;transform:scaleX(1.0630);">Blocklist-Custom</div>
<div class="a" style="left:1968.97px;top:1379.54px;font-size:27px;font-weight:400;color:#444444;font-family:'Liberation Sans', Arial, sans-serif;transform:scaleX(1.0280);">eicar.stream</div>
<div class="a" style="left:2173.70px;top:1379.54px;font-size:27px;font-weight:400;color:#444444;font-family:'Liberation Sans', Arial, sans-serif;transform:scaleX(0.9556);">Techblue Sec Pol…</div>
<div class="a" style="left:2413.35px;top:1379.54px;font-size:27px;font-weight:400;color:#444444;font-family:'Liberation Sans', Arial, sans-serif;transform:scaleX(1.0229);">Block</div>
<div class="a" style="left:2656.70px;top:1379.54px;font-size:27px;font-weight:400;color:#444444;font-family:'Liberation Sans', Arial, sans-serif;transform:scaleX(1.0538);">testing-windows</div>
<div class="a" style="left:2995.50px;top:1379.54px;font-size:27px;font-weight:400;color:#444444;font-family:'Liberation Sans', Arial, sans-serif;">BloxOne Endpoi…</div>
<div class="a" style="left:3237.33px;top:1379.54px;font-size:27px;font-weight:400;color:#444444;font-family:'Liberation Sans', Arial, sans-serif;transform:scaleX(1.0873);">NXDOMAIN</div>
</body></html>
